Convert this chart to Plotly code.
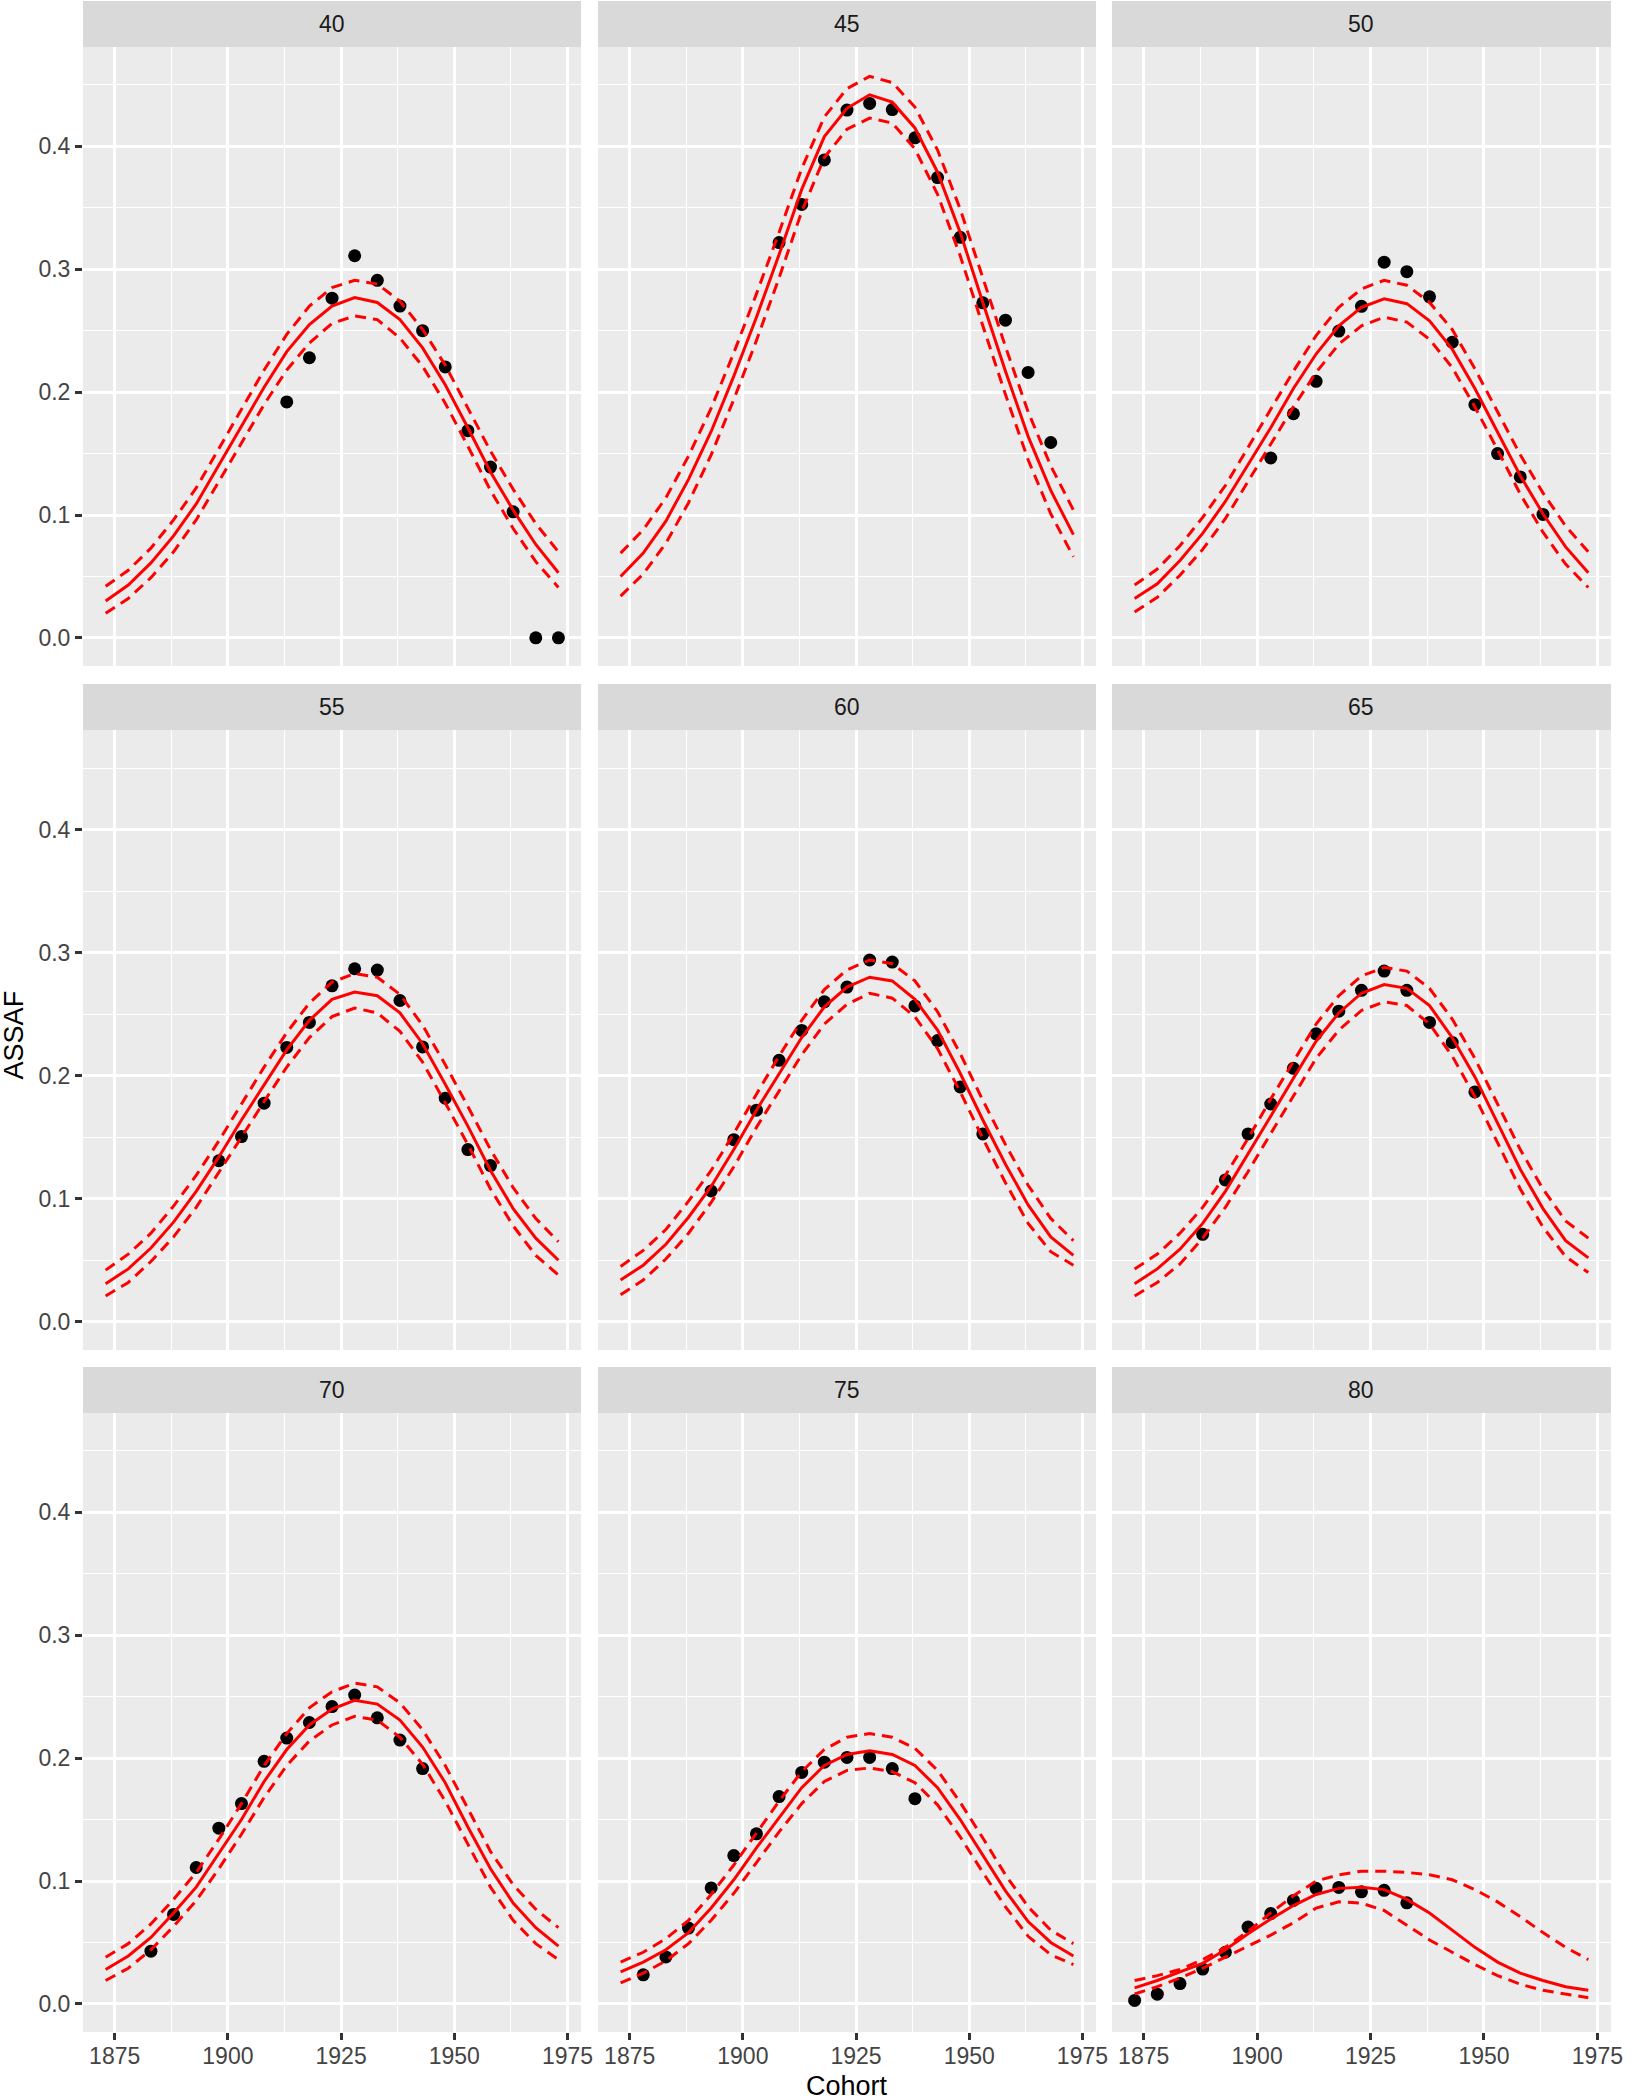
import plotly.graph_objects as go

# ---------------- data ----------------
cohorts = [1873, 1878, 1883, 1888, 1893, 1898, 1903, 1908, 1913, 1918, 1923,
           1928, 1933, 1938, 1943, 1948, 1953, 1958, 1963, 1968, 1973]
ages = ["40", "45", "50", "55", "60", "65", "70", "75", "80"]
x_ticks = [1875, 1900, 1925, 1950, 1975]
y_ticks = [0.0, 0.1, 0.2, 0.3, 0.4]
y_tick_labels = ["0.0", "0.1", "0.2", "0.3", "0.4"]

fit_40 = [0.030, 0.043, 0.061, 0.083, 0.109, 0.141, 0.173, 0.204, 0.233, 0.255, 0.270,
          0.277, 0.273, 0.259, 0.236, 0.206, 0.171, 0.135, 0.104, 0.076, 0.053]
upper_40 = [0.042, 0.055, 0.073, 0.096, 0.122, 0.154, 0.186, 0.218, 0.247, 0.270, 0.285,
            0.291, 0.288, 0.274, 0.251, 0.222, 0.187, 0.152, 0.121, 0.093, 0.070]
lower_40 = [0.020, 0.032, 0.049, 0.070, 0.096, 0.127, 0.159, 0.190, 0.218, 0.240, 0.256,
            0.262, 0.259, 0.244, 0.221, 0.191, 0.156, 0.120, 0.089, 0.062, 0.041]
obs_40 = [0.192, 0.228, 0.2765, 0.311, 0.291, 0.270, 0.250, 0.2205, 0.1686, 0.139,
          0.1026, 0.0, 0.0]

fit_45 = [0.050, 0.069, 0.095, 0.129, 0.168, 0.213, 0.261, 0.312, 0.365, 0.408, 0.431,
          0.442, 0.436, 0.415, 0.379, 0.330, 0.273, 0.217, 0.164, 0.120, 0.084]
upper_45 = [0.069, 0.088, 0.114, 0.148, 0.187, 0.232, 0.280, 0.330, 0.382, 0.424, 0.447,
            0.457, 0.452, 0.432, 0.397, 0.349, 0.293, 0.237, 0.184, 0.140, 0.104]
lower_45 = [0.034, 0.052, 0.077, 0.110, 0.149, 0.194, 0.242, 0.293, 0.347, 0.391, 0.414,
            0.423, 0.419, 0.398, 0.361, 0.311, 0.254, 0.198, 0.145, 0.101, 0.066]
obs_45 = [0.3217, 0.3527, 0.389, 0.4296, 0.435, 0.430, 0.407, 0.3746, 0.326, 0.2727,
          0.2586, 0.216, 0.159]

fit_50 = [0.032, 0.044, 0.063, 0.085, 0.111, 0.141, 0.171, 0.203, 0.231, 0.254, 0.269,
          0.276, 0.272, 0.258, 0.235, 0.203, 0.168, 0.132, 0.101, 0.074, 0.053]
upper_50 = [0.043, 0.056, 0.075, 0.098, 0.124, 0.155, 0.185, 0.217, 0.246, 0.269, 0.284,
            0.291, 0.287, 0.273, 0.251, 0.219, 0.184, 0.149, 0.118, 0.091, 0.070]
lower_50 = [0.021, 0.033, 0.051, 0.072, 0.097, 0.127, 0.157, 0.188, 0.216, 0.239, 0.254,
            0.261, 0.257, 0.243, 0.220, 0.188, 0.153, 0.117, 0.086, 0.060, 0.041]
obs_50 = [0.1464, 0.1824, 0.2088, 0.2497, 0.2698, 0.3058, 0.298, 0.2776, 0.2406, 0.1898,
          0.150, 0.131, 0.1005]

fit_55 = [0.031, 0.043, 0.060, 0.081, 0.106, 0.134, 0.164, 0.193, 0.221, 0.245, 0.262,
          0.268, 0.265, 0.251, 0.226, 0.193, 0.159, 0.123, 0.092, 0.068, 0.050]
upper_55 = [0.042, 0.055, 0.072, 0.094, 0.119, 0.147, 0.177, 0.207, 0.235, 0.259, 0.276,
            0.283, 0.280, 0.266, 0.241, 0.209, 0.175, 0.140, 0.109, 0.084, 0.065]
lower_55 = [0.021, 0.032, 0.049, 0.069, 0.093, 0.121, 0.150, 0.179, 0.207, 0.231, 0.248,
            0.255, 0.251, 0.236, 0.211, 0.178, 0.144, 0.108, 0.078, 0.054, 0.038]
obs_55 = [0.1309, 0.1505, 0.1777, 0.223, 0.2433, 0.273, 0.2869, 0.2858, 0.2611, 0.2234,
          0.1817, 0.140, 0.127]

fit_60 = [0.034, 0.046, 0.063, 0.085, 0.110, 0.140, 0.172, 0.202, 0.231, 0.256, 0.272,
          0.280, 0.277, 0.262, 0.237, 0.202, 0.164, 0.128, 0.095, 0.069, 0.054]
upper_60 = [0.045, 0.058, 0.075, 0.098, 0.123, 0.153, 0.185, 0.216, 0.245, 0.270, 0.286,
            0.294, 0.291, 0.277, 0.252, 0.218, 0.180, 0.144, 0.111, 0.084, 0.066]
lower_60 = [0.022, 0.034, 0.051, 0.072, 0.097, 0.126, 0.158, 0.188, 0.217, 0.242, 0.258,
            0.267, 0.263, 0.248, 0.222, 0.187, 0.149, 0.113, 0.080, 0.057, 0.046]
obs_60 = [0.1063, 0.148, 0.172, 0.2125, 0.2368, 0.260, 0.272, 0.294, 0.2923, 0.2567,
          0.2285, 0.1908, 0.1527]

fit_65 = [0.031, 0.043, 0.059, 0.080, 0.106, 0.136, 0.167, 0.198, 0.228, 0.251, 0.267,
          0.274, 0.271, 0.257, 0.231, 0.199, 0.161, 0.124, 0.092, 0.066, 0.052]
upper_65 = [0.043, 0.055, 0.072, 0.093, 0.119, 0.149, 0.181, 0.212, 0.242, 0.265, 0.281,
            0.288, 0.285, 0.271, 0.246, 0.214, 0.177, 0.140, 0.108, 0.082, 0.068]
lower_65 = [0.021, 0.032, 0.047, 0.068, 0.093, 0.122, 0.153, 0.184, 0.214, 0.237, 0.253,
            0.260, 0.257, 0.242, 0.216, 0.183, 0.145, 0.108, 0.077, 0.053, 0.040]
obs_65 = [0.0711, 0.1153, 0.1527, 0.177, 0.206, 0.234, 0.2524, 0.2694, 0.285, 0.2694,
          0.2433, 0.227, 0.1868]

fit_70 = [0.028, 0.039, 0.054, 0.074, 0.095, 0.122, 0.150, 0.181, 0.207, 0.227, 0.240,
          0.247, 0.244, 0.231, 0.209, 0.180, 0.144, 0.110, 0.082, 0.062, 0.047]
upper_70 = [0.038, 0.049, 0.065, 0.085, 0.107, 0.134, 0.163, 0.194, 0.220, 0.241, 0.254,
            0.261, 0.258, 0.245, 0.223, 0.194, 0.159, 0.124, 0.097, 0.077, 0.062]
lower_70 = [0.019, 0.029, 0.044, 0.063, 0.084, 0.110, 0.138, 0.168, 0.194, 0.214, 0.227,
            0.234, 0.231, 0.217, 0.195, 0.165, 0.130, 0.095, 0.068, 0.049, 0.036]
obs_70 = [0.0429, 0.0728, 0.111, 0.143, 0.163, 0.1974, 0.2163, 0.229, 0.242, 0.2513,
          0.2328, 0.2147, 0.1915]

fit_75 = [0.026, 0.034, 0.044, 0.058, 0.078, 0.101, 0.127, 0.152, 0.176, 0.194, 0.203,
          0.206, 0.203, 0.194, 0.176, 0.150, 0.121, 0.092, 0.067, 0.050, 0.039]
upper_75 = [0.034, 0.042, 0.053, 0.068, 0.089, 0.113, 0.139, 0.165, 0.189, 0.207, 0.217,
            0.220, 0.217, 0.208, 0.190, 0.164, 0.135, 0.105, 0.079, 0.060, 0.049]
lower_75 = [0.017, 0.025, 0.035, 0.049, 0.068, 0.090, 0.115, 0.140, 0.163, 0.181, 0.190,
            0.192, 0.189, 0.180, 0.162, 0.136, 0.107, 0.079, 0.055, 0.040, 0.032]
obs_75 = [0.0236, 0.0382, 0.0617, 0.0944, 0.1207, 0.1384, 0.1687, 0.1884, 0.1967, 0.2006,
          0.2006, 0.1915, 0.167]

fit_80 = [0.013, 0.019, 0.026, 0.033, 0.044, 0.057, 0.069, 0.080, 0.089, 0.094, 0.095,
          0.093, 0.085, 0.074, 0.060, 0.046, 0.034, 0.025, 0.019, 0.014, 0.011]
upper_80 = [0.019, 0.023, 0.028, 0.036, 0.046, 0.059, 0.074, 0.088, 0.100, 0.105, 0.108,
            0.108, 0.107, 0.105, 0.101, 0.093, 0.083, 0.071, 0.058, 0.046, 0.036]
lower_80 = [0.008, 0.014, 0.021, 0.029, 0.038, 0.047, 0.056, 0.066, 0.078, 0.083, 0.082,
            0.076, 0.064, 0.052, 0.042, 0.032, 0.023, 0.016, 0.011, 0.008, 0.005]
obs_80 = [0.0028, 0.0079, 0.0165, 0.0283, 0.042, 0.0625, 0.0735, 0.0842, 0.094, 0.0948,
          0.0912, 0.0924, 0.0822]

# first observed cohort for each age panel
obs_first_cohort = [1913, 1908, 1903, 1898, 1893, 1888, 1883, 1878, 1873]

fits = [fit_40, fit_45, fit_50, fit_55, fit_60, fit_65, fit_70, fit_75, fit_80]
uppers = [upper_40, upper_45, upper_50, upper_55, upper_60, upper_65, upper_70, upper_75, upper_80]
lowers = [lower_40, lower_45, lower_50, lower_55, lower_60, lower_65, lower_70, lower_75, lower_80]
observed = [obs_40, obs_45, obs_50, obs_55, obs_60, obs_65, obs_70, obs_75, obs_80]

# ---------------- layout geometry ----------------
W, H = 1635, 2100
ml, mr, mt, mb = 83, 15, 47, 68
pw = W - ml - mr
ph = H - mt - mb
col_px = [(83, 584), (601, 1102), (1118, 1620)]
row_px = [(47, 666), (730, 1350), (1413, 2032)]
strip_h = 46

def xdom(c):
    a, b = col_px[c]
    return [(a - ml) / pw, (b - ml) / pw]

def ydom(r):
    a, b = row_px[r]
    return [(H - mb - b) / ph, (H - mb - a) / ph]

FONT = "Liberation Sans, Arial, Helvetica, sans-serif"
RED = "#FF0000"
TICK_COL = "#444444"
fig = go.Figure()
layout = dict(
    width=W, height=H,
    margin=dict(l=ml, r=mr, t=mt, b=mb, pad=0),
    paper_bgcolor="white", plot_bgcolor="#EBEBEB",
    showlegend=False,
    font=dict(family=FONT, color=TICK_COL, size=22),
)
shapes = []
annotations = []

for i, age in enumerate(ages):
    r, c = divmod(i, 3)
    n = i + 1
    xa = "x" if n == 1 else f"x{n}"
    ya = "y" if n == 1 else f"y{n}"
    start = cohorts.index(obs_first_cohort[i])
    ox = cohorts[start:start + len(observed[i])]
    fig.add_trace(go.Scatter(x=ox, y=observed[i], mode="markers",
                             marker=dict(color="black", size=13, line=dict(width=0)),
                             xaxis=xa, yaxis=ya))
    for series, dash in ((uppers[i], "11px,7px"), (lowers[i], "11px,7px"), (fits[i], "solid")):
        fig.add_trace(go.Scatter(x=cohorts, y=series, mode="lines",
                                 line=dict(color=RED, width=3, dash=dash),
                                 xaxis=xa, yaxis=ya))
    show_x = (r == 2)
    show_y = (c == 0)
    xkey = "xaxis" if n == 1 else f"xaxis{n}"
    ykey = "yaxis" if n == 1 else f"yaxis{n}"
    layout[xkey] = dict(
        domain=xdom(c), anchor=ya, range=[1868, 1978],
        tickmode="array", tickvals=x_ticks, ticktext=[str(v) for v in x_ticks],
        showticklabels=show_x, ticks="outside" if show_x else "",
        ticklen=7, tickwidth=2.5, tickcolor="#333333", ticklabelstandoff=-4,
        tickfont=dict(family=FONT, size=23, color=TICK_COL),
        showgrid=True, gridcolor="white", gridwidth=2.6,
        minor=dict(tickvals=[1887.5, 1912.5, 1937.5, 1962.5], showgrid=True,
                   gridcolor="white", gridwidth=1.3, ticks=""),
        zeroline=False, showline=False,
    )
    layout[ykey] = dict(
        domain=ydom(r), anchor=xa, range=[-0.0229, 0.4809],
        tickmode="array", tickvals=y_ticks, ticktext=y_tick_labels,
        showticklabels=show_y, ticks="outside" if show_y else "",
        ticklen=7, tickwidth=2.5, tickcolor="#333333",
        tickfont=dict(family=FONT, size=23, color=TICK_COL),
        showgrid=True, gridcolor="white", gridwidth=2.6,
        minor=dict(tickvals=[0.05, 0.15, 0.25, 0.35, 0.45], showgrid=True,
                   gridcolor="white", gridwidth=1.3, ticks=""),
        zeroline=False, showline=False,
    )
    # facet strip
    xd = xdom(c)
    ytop = ydom(r)[1]
    sh = strip_h / ph
    shapes.append(dict(type="rect", xref="paper", yref="paper",
                       x0=xd[0], x1=xd[1], y0=ytop, y1=ytop + sh,
                       fillcolor="#D9D9D9", line=dict(width=0), layer="below"))
    annotations.append(dict(text=age, xref="paper", yref="paper",
                            x=(xd[0] + xd[1]) / 2, y=ytop + sh / 2,
                            xanchor="center", yanchor="middle", showarrow=False,
                            font=dict(family=FONT, size=23, color="#1A1A1A")))

annotations.append(dict(text="ASSAF", xref="paper", yref="paper",
                        x=(14 - ml) / pw, y=(H - mb - 1035) / ph, textangle=-90,
                        xanchor="center", yanchor="middle", showarrow=False,
                        font=dict(family=FONT, size=27, color="black")))
annotations.append(dict(text="Cohort", xref="paper", yref="paper",
                        x=(851 - ml) / pw, y=(H - mb - 2086) / ph,
                        xanchor="center", yanchor="middle", showarrow=False,
                        font=dict(family=FONT, size=27, color="black")))

layout["shapes"] = shapes
layout["annotations"] = annotations
fig.update_layout(**layout)
fig.write_html("out.html", config={"displayModeBar": False},
               post_script="document.body.style.margin='0px';document.body.style.padding='0px';")
